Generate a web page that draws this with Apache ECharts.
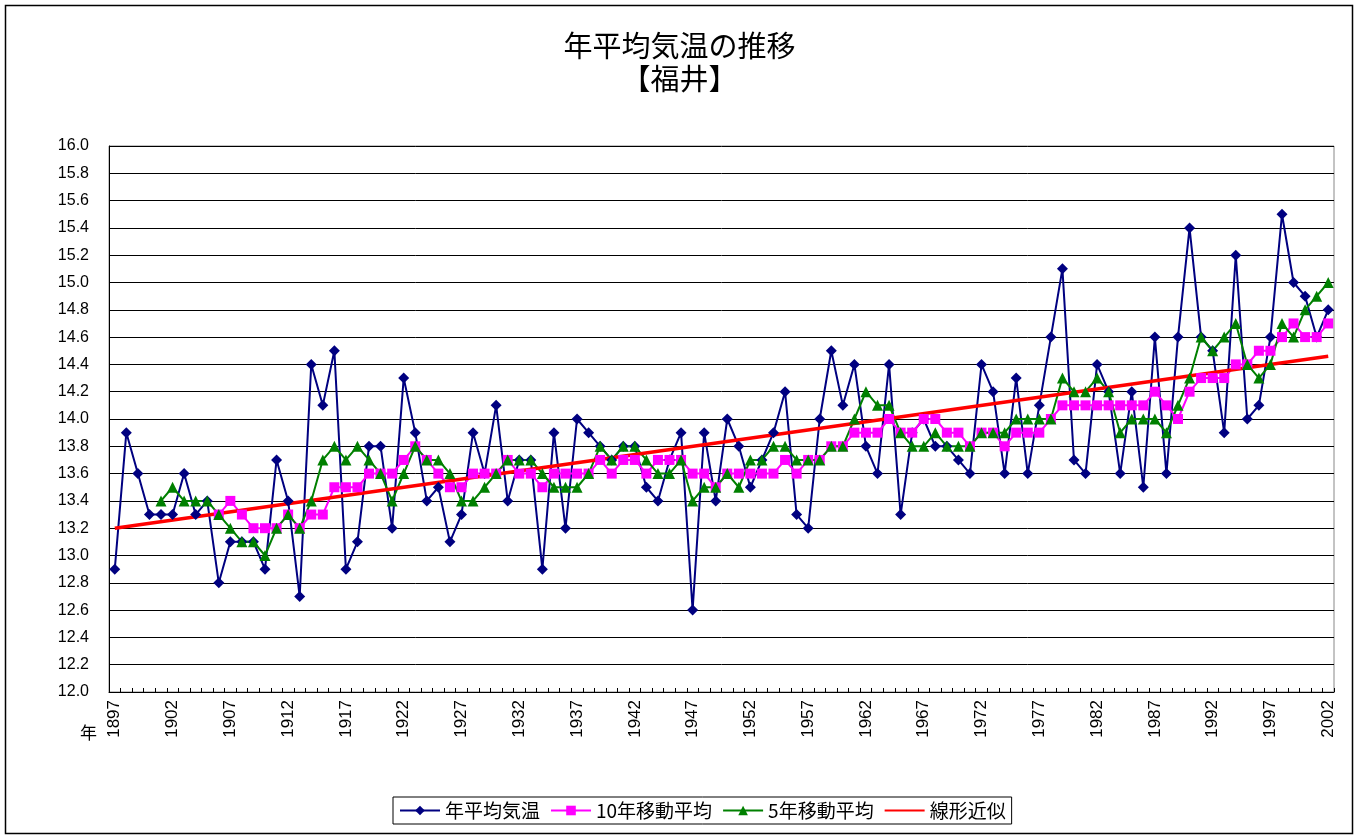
<!DOCTYPE html>
<html>
<head>
<meta charset="utf-8">
<script src="https://cdn.jsdelivr.net/npm/echarts@6/dist/echarts.min.js"></script>
<style>
html,body{margin:0;padding:0;background:#fff;}
#chart{width:1359px;height:837px;}
</style>
</head>
<body>
<div id="chart"></div>
<script>
const years = ['1897','1898','1899','1900','1901','1902','1903','1904','1905','1906',
'1907','1908','1909','1910','1911','1912','1913','1914','1915','1916',
'1917','1918','1919','1920','1921','1922','1923','1924','1925','1926',
'1927','1928','1929','1930','1931','1932','1933','1934','1935','1936',
'1937','1938','1939','1940','1941','1942','1943','1944','1945','1946',
'1947','1948','1949','1950','1951','1952','1953','1954','1955','1956',
'1957','1958','1959','1960','1961','1962','1963','1964','1965','1966',
'1967','1968','1969','1970','1971','1972','1973','1974','1975','1976',
'1977','1978','1979','1980','1981','1982','1983','1984','1985','1986',
'1987','1988','1989','1990','1991','1992','1993','1994','1995','1996',
'1997','1998','1999','2000','2001','2002'];

// 年平均気温
const annualTemp = [12.9,13.9,13.6,13.3,13.3,13.3,13.6,13.3,13.4,12.8,
13.1,13.1,13.1,12.9,13.7,13.4,12.7,14.4,14.1,14.5,
12.9,13.1,13.8,13.8,13.2,14.3,13.9,13.4,13.5,13.1,
13.3,13.9,13.6,14.1,13.4,13.7,13.7,12.9,13.9,13.2,
14.0,13.9,13.8,13.7,13.8,13.8,13.5,13.4,13.7,13.9,
12.6,13.9,13.4,14.0,13.8,13.5,13.7,13.9,14.2,13.3,
13.2,14.0,14.5,14.1,14.4,13.8,13.6,14.4,13.3,13.9,
14.0,13.8,13.8,13.7,13.6,14.4,14.2,13.6,14.3,13.6,
14.1,14.6,15.1,13.7,13.6,14.4,14.2,13.6,14.2,13.5,
14.6,13.6,14.6,15.4,14.6,14.5,13.9,15.2,14.0,14.1,
14.6,15.5,15.0,14.9,14.6,14.8];

// 10年移動平均
const ma10 = [null,null,null,null,null,null,null,null,null,13.3,
13.4,13.3,13.2,13.2,13.2,13.3,13.2,13.3,13.3,13.5,
13.5,13.5,13.6,13.6,13.6,13.7,13.8,13.7,13.6,13.5,
13.5,13.6,13.6,13.6,13.7,13.6,13.6,13.5,13.6,13.6,
13.6,13.6,13.7,13.6,13.7,13.7,13.6,13.7,13.7,13.7,
13.6,13.6,13.5,13.6,13.6,13.6,13.6,13.6,13.7,13.6,
13.7,13.7,13.8,13.8,13.9,13.9,13.9,14.0,13.9,13.9,
14.0,14.0,13.9,13.9,13.8,13.9,13.9,13.8,13.9,13.9,
13.9,14.0,14.1,14.1,14.1,14.1,14.1,14.1,14.1,14.1,
14.2,14.1,14.0,14.2,14.3,14.3,14.3,14.4,14.4,14.5,
14.5,14.6,14.7,14.6,14.6,14.7];

// 5年移動平均
const ma5 = [null,null,null,null,13.4,13.5,13.4,13.4,13.4,13.3,
13.2,13.1,13.1,13.0,13.2,13.3,13.2,13.4,13.7,13.8,
13.7,13.8,13.7,13.6,13.4,13.6,13.8,13.7,13.7,13.6,
13.4,13.4,13.5,13.6,13.7,13.7,13.7,13.6,13.5,13.5,
13.5,13.6,13.8,13.7,13.8,13.8,13.7,13.6,13.6,13.7,
13.4,13.5,13.5,13.6,13.5,13.7,13.7,13.8,13.8,13.7,
13.7,13.7,13.8,13.8,14.0,14.2,14.1,14.1,13.9,13.8,
13.8,13.9,13.8,13.8,13.8,13.9,13.9,13.9,14.0,14.0,
14.0,14.0,14.3,14.2,14.2,14.3,14.2,13.9,14.0,14.0,
14.0,13.9,14.1,14.3,14.6,14.5,14.6,14.7,14.4,14.3,
14.4,14.7,14.6,14.8,14.9,15.0];

// 線形近似 (end points of the fitted line)
const trendStart = 13.2;
const trendEnd = 14.46;

const yTicks = { min: 12.0, max: 16.0, step: 0.2 };
const legendNames = ['年平均気温','10年移動平均','5年移動平均','線形近似'];

const trend = years.map((y, i) => i === 0 ? trendStart : (i === years.length - 1 ? trendEnd : null));

const chart = echarts.init(document.getElementById('chart'), null, {renderer: 'canvas'});
const cjk = '"Noto Sans CJK JP", sans-serif';
const num = '"Liberation Sans", Arial, sans-serif';

chart.setOption({
  backgroundColor: '#ffffff',
  animation: false,
  title: {
    text: '年平均気温の推移\n【福井】',
    left: 'center',
    top: 24,
    textStyle: { fontFamily: cjk, fontSize: 29, fontWeight: 'normal', color: '#000', lineHeight: 33 }
  },
  legend: {
    left: 393, top: 797,
    padding: [4, 6],
    borderColor: '#000', borderWidth: 1,
    itemGap: 10, itemWidth: 40, itemHeight: 12,
    textStyle: { fontFamily: cjk, fontSize: 19, color: '#000' },
    data: [
      legendNames[0], legendNames[1], legendNames[2],
      { name: legendNames[3], itemStyle: { opacity: 0 } }
    ]
  },
  graphic: [
    { type: 'rect', shape: { x: 5.5, y: 5.5, width: 1347, height: 828 }, style: { fill: null, stroke: '#000', lineWidth: 1.5 }, silent: true },
    { type: 'text', left: 80, top: 724, style: { text: '年', font: '17px "Noto Sans CJK JP"', fill: '#000' } }
  ],
  grid: {
    left: 109, right: 25, top: 146, bottom: 145,
    show: true, borderColor: '#888', borderWidth: 1, backgroundColor: '#fff'
  },
  xAxis: {
    type: 'category',
    data: years,
    boundaryGap: true,
    axisLine: { lineStyle: { color: '#000', width: 1 } },
    axisTick: { show: true, inside: true, length: 4, interval: 0, lineStyle: { color: '#000' } },
    axisLabel: { interval: 4, rotate: 90, margin: 8, fontFamily: num, fontSize: 17, color: '#000' },
    splitLine: { show: false }
  },
  yAxis: {
    type: 'value',
    min: yTicks.min, max: yTicks.max, interval: yTicks.step,
    axisLine: { show: true, lineStyle: { color: '#000', width: 1 } },
    axisTick: { show: true, inside: true, length: 4, lineStyle: { color: '#000' } },
    axisLabel: { margin: 20, fontFamily: num, fontSize: 16, color: '#000', formatter: v => v.toFixed(1) },
    splitLine: { show: true, lineStyle: { color: '#000', width: 1 } }
  },
  series: [
    {
      name: legendNames[0], type: 'line', data: annualTemp,
      symbol: 'diamond', symbolSize: 11, showSymbol: true, showAllSymbol: true,
      itemStyle: { color: '#000080' },
      lineStyle: { color: '#000080', width: 2 }
    },
    {
      name: legendNames[1], type: 'line', data: ma10,
      symbol: 'rect', symbolSize: 10, showSymbol: true, showAllSymbol: true,
      itemStyle: { color: '#FF00FF' },
      lineStyle: { color: '#FF00FF', width: 2 }
    },
    {
      name: legendNames[2], type: 'line', data: ma5,
      symbol: 'triangle', symbolSize: 11, showSymbol: true, showAllSymbol: true,
      itemStyle: { color: '#008000' },
      lineStyle: { color: '#008000', width: 2 }
    },
    {
      name: legendNames[3], type: 'line', data: trend,
      connectNulls: true, symbol: 'none', showSymbol: false,
      itemStyle: { color: '#FF0000' },
      lineStyle: { color: '#FF0000', width: 3.5 }
    }
  ]
});
</script>
</body>
</html>
